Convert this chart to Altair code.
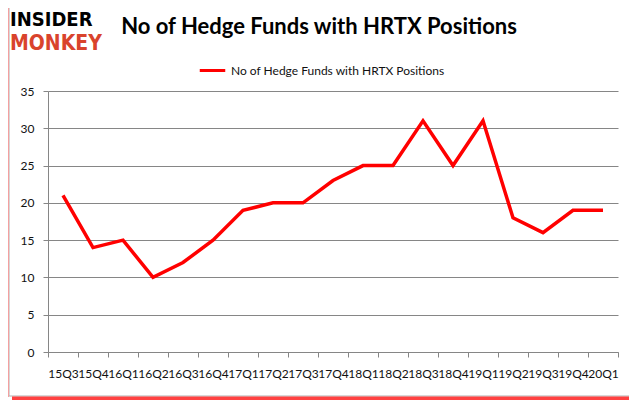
import altair as alt
import pandas as pd

quarters = ["15Q3", "15Q4", "16Q1", "16Q2", "16Q3", "16Q4", "17Q1", "17Q2", "17Q3", "17Q4",
            "18Q1", "18Q2", "18Q3", "18Q4", "19Q1", "19Q2", "19Q3", "19Q4", "20Q1"]
values = [21, 14, 15, 10, 12, 15, 19, 20, 20, 23, 25, 25, 31, 25, 31, 18, 16, 19, 19]
series_name = "No of Hedge Funds with HRTX Positions"
title_text = "No of Hedge Funds with HRTX Positions"
y_ticks = [0, 5, 10, 15, 20, 25, 30, 35]

df = pd.DataFrame({"quarter": quarters, "funds": values, "series": series_name})
one = pd.DataFrame({"a": [0]})

GRAY = "#868686"
FONT = "Lato"
LOGO_FONT = "Liberation Sans Narrow, DejaVu Sans Condensed, sans-serif"

frame = alt.Chart(one).mark_rect(fillOpacity=0, stroke="#b0b0b0", strokeWidth=1).encode(
    x=alt.value(-39), x2=alt.value(583), y=alt.value(-86), y2=alt.value(305)
)
shadow = alt.Chart(one).mark_rule(color="#ff2020", strokeWidth=5, opacity=0.85).encode(
    x=alt.value(-36), x2=alt.value(585), y=alt.value(308)
)
shadow_left = alt.Chart(one).mark_rule(color="#f4a0a0", strokeWidth=2).encode(
    x=alt.value(-40), y=alt.value(-84), y2=alt.value(306)
)

line = alt.Chart(df).mark_line(strokeWidth=3.5).encode(
    x=alt.X("quarter:O", sort=quarters,
            scale=alt.Scale(type="band", paddingInner=0, paddingOuter=0),
            axis=alt.Axis(title=None, labelAngle=0, labelOverlap=False, tickBand="extent",
                          domainColor=GRAY, tickColor=GRAY, tickSize=5, labelPadding=11,
                          labelFont=FONT, labelFontSize=12, labelColor="#111", grid=False)),
    y=alt.Y("funds:Q", scale=alt.Scale(domain=[0, 35]),
            axis=alt.Axis(title=None, values=y_ticks, domainColor=GRAY, tickColor=GRAY,
                          tickSize=5, gridColor=GRAY, labelPadding=9,
                          labelFont=FONT, labelFontSize=12, labelColor="#111")),
    color=alt.Color("series:N", scale=alt.Scale(domain=[series_name], range=["#ff0000"]),
                    legend=alt.Legend(orient="none", legendX=150, legendY=-35, title=None,
                                      direction="horizontal", symbolType="stroke",
                                      symbolStrokeWidth=3, symbolSize=650, labelLimit=0,
                                      labelFont=FONT, labelFontSize=12, labelColor="#111",
                                      padding=0)),
)

title = alt.Chart(one).mark_text(font=FONT, fontSize=22, fontWeight="bold", color="#000",
                                 align="center", baseline="middle").encode(
    x=alt.value(271), y=alt.value(-64), text=alt.value(title_text)
)
logo1 = alt.Chart(one).mark_text(font=LOGO_FONT, fontSize=20, fontWeight="bold", color="#000",
                                 align="left", baseline="alphabetic").encode(
    x=alt.value(-38), y=alt.value(-65), text=alt.value("INSIDER")
)
logo2 = alt.Chart(one).mark_text(font=LOGO_FONT, fontSize=21, fontWeight="bold", color="#d9432c",
                                 align="left", baseline="alphabetic").encode(
    x=alt.value(-38), y=alt.value(-41), text=alt.value("MONKEY")
)

chart = alt.layer(frame, shadow_left, shadow, line, title, logo1, logo2).properties(
    width=570, height=261,
    autosize=alt.AutoSizeParams(type="none"),
    padding={"left": 40, "top": 83, "right": 11, "bottom": 48},
    background="white",
).configure_view(stroke=None)

chart.save("out.html", embed_options={"renderer": "svg", "actions": False})
